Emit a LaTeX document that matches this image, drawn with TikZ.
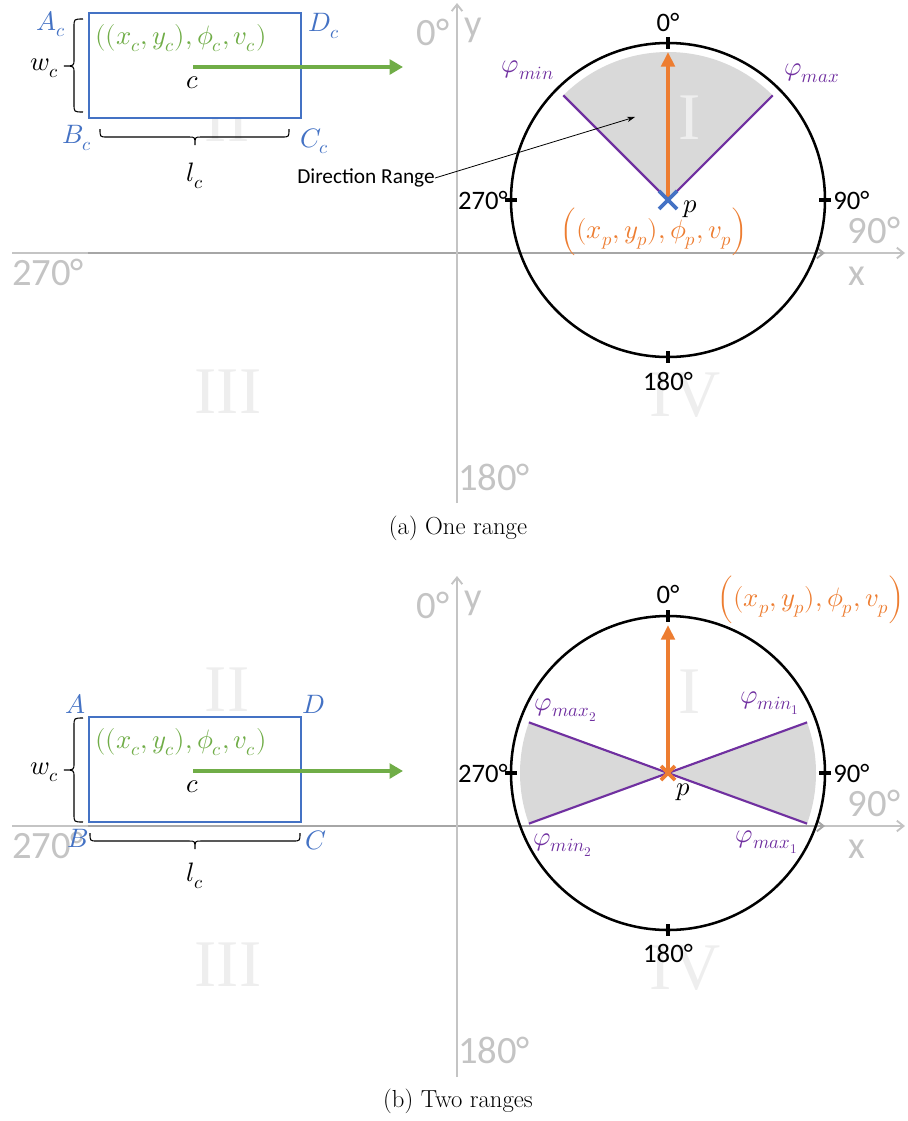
\documentclass[tikz,border=0pt]{standalone}
\usepackage{fontspec}
\usepackage{unicode-math}
\setmathfont{Latin Modern Math}
\newfontfamily\calfont{Carlito}
\newfontfamily\romfont{Liberation Serif}
\usetikzlibrary{arrows.meta}
\definecolor{cblue}{HTML}{4472C4}
\definecolor{cgreen}{HTML}{70AD47}
\definecolor{corange}{HTML}{ED7D31}
\definecolor{cpurple}{HTML}{7030A0}
\definecolor{axlight}{HTML}{C4C4C4}
\definecolor{axdark}{HTML}{A6A6A6}
\definecolor{sectgray}{HTML}{D9D9D9}
\definecolor{romgray}{HTML}{EEEEEE}
\begin{document}
\begin{tikzpicture}[x=0.75pt,y=-0.75pt,
  mathlbl/.style={inner sep=0pt, font=\fontsize{20}{20}\selectfont},
  deglbl/.style={inner sep=0pt, font=\calfont\fontsize{20}{20}\selectfont},
  axlbl/.style={inner sep=0pt, text=axlight, font=\calfont\fontsize{29}{29}\selectfont},
  romlbl/.style={inner sep=0pt, text=romgray, font=\romfont\fontsize{50}{50}\selectfont},
  caplbl/.style={inner sep=0pt, font=\fontsize{18.5}{18.5}\selectfont},
  axislight/.style={draw=axlight, line width=1.4pt, -{Straight Barb[length=5pt,width=8pt]}},
  axisdark/.style={draw=axdark, line width=1.4pt, -{Straight Barb[length=5pt,width=8pt]}},
  carbox/.style={draw=cblue, line width=2.2pt, fill=white},
  greenarrow/.style={draw=cgreen, line width=3pt, -{Triangle[length=10pt,width=11pt]}},
  orangearrow/.style={draw=corange, line width=3pt, -{Triangle[length=11pt,width=10pt]}},
  dircircle/.style={draw=black, line width=1.9pt},
  tickmark/.style={draw=black, line width=3pt},
  rangeline/.style={draw=cpurple, line width=1.6pt},
  bracebr/.style={draw=black, line width=0.8pt},
  purplelbl/.style={mathlbl, text=cpurple},
  bluelbl/.style={mathlbl, text=cblue},
]
\useasboundingbox (0,0) rectangle (907,1121);

%%%%%%%%%%%%%%%% PANEL (a) %%%%%%%%%%%%%%%%
\coordinate (pa) at (668,200);
\fill[sectgray] (pa) -- ++(-45:148) arc[start angle=-45, end angle=-135, radius=148] -- cycle;
\node[romlbl] (r1a) at (690,118) {I};
\node[romlbl] (r2a) at (227,120) {II};
\node[romlbl] (r3a) at (228,392) {III};
\node[romlbl] (r4a) at (685,395) {IV};
% axes
\coordinate (xa0) at (12,253); \coordinate (xa1) at (905,253);
\coordinate (xd0) at (88,253); \coordinate (xd1) at (825,253);
\coordinate (ya0) at (457,503); \coordinate (ya1) at (457,3);
\draw[axislight] (xa0) -- (xa1);
\draw[axisdark] (xd0) -- (xd1);
\draw[axislight] (ya0) -- (ya1);
\node[axlbl] (g0a) at (433,32) {0°};
\node[axlbl] (gya) at (473,30) {y};
\node[axlbl] (g90a) at (874,230) {90°};
\node[axlbl] (gxa) at (857,276) {x};
\node[axlbl] (g270a) at (48,272) {270°};
\node[axlbl] (g180a) at (494,477) {180°};
% car
\coordinate (Aa) at (89,13); \coordinate (Ca) at (301,118);
\draw[carbox] (Aa) rectangle (Ca);
\node[bluelbl] (lAa) at (51,24) {$A_c$};
\node[bluelbl] (lDa) at (324,26) {$D_c$};
\node[bluelbl] (lBa) at (77,138) {$B_c$};
\node[bluelbl] (lCa) at (315,141) {$C_c$};
\node[mathlbl, text=cgreen] (sca) at (181,38) {$((x_c,y_c),\phi_c,v_c)$};
\coordinate (ga0) at (193,67); \coordinate (ga1) at (403,67);
\draw[greenarrow] (ga0) -- (ga1);
\node[mathlbl] (ca) at (193,83) {$c$};
\draw[bracebr] (83,19) .. controls (74,19) .. (74,27) -- (74,59) .. controls (74,66) .. (64,66)
  .. controls (74,66) .. (74,73) -- (74,104) .. controls (74,112) .. (83,112);
\node[mathlbl] (wa) at (45,68) {$w_c$};
\draw[bracebr] (100,129) .. controls (100,137) .. (107,137) -- (189,137) .. controls (195,137) .. (195,145)
  .. controls (195,137) .. (201,137) -- (282,137) .. controls (289,137) .. (289,129);
\node[mathlbl] (la) at (195,176) {$l_c$};
% direction circle
\draw[dircircle] (pa) circle[radius=157];
\path (pa) ++(-135:148) coordinate (mina);
\path (pa) ++(-45:148) coordinate (maxa);
\draw[rangeline] (pa) -- (mina);
\draw[rangeline] (pa) -- (maxa);
\coordinate (oa) at (668,52);
\draw[orangearrow] (pa) -- (oa);
\draw[draw=cblue, line width=2.8pt] (659,191) -- (677,209) (659,209) -- (677,191);
\draw[tickmark] (668,37) -- (668,49);
\draw[tickmark] (668,351) -- (668,363);
\draw[tickmark] (505,200) -- (517,200);
\draw[tickmark] (819,200) -- (831,200);
\node[deglbl] (d0a) at (668,22) {0°};
\node[deglbl, anchor=east] (d270a) at (508,200) {270°};
\node[deglbl, anchor=west] (d90a) at (833,200) {90°};
\node[deglbl] (d180a) at (668,381) {180°};
\node[purplelbl] (phmina) at (528,70) {$\varphi_{min}$};
\node[purplelbl] (phmaxa) at (812,73) {$\varphi_{max}$};
\node[mathlbl] (ppa) at (690,209) {$p$};
\node[mathlbl, text=corange] (spa) at (654,232) {$\Bigl((x_p,y_p),\phi_p,v_p\Bigr)$};
% annotation
\node[inner sep=0pt, font=\calfont\fontsize{16}{16}\selectfont] (dr) at (366,178) {Direction Range};
\coordinate (drt) at (635,117);
\draw[line width=0.6pt, -{Stealth[length=6pt,width=4pt]}] (dr.east) -- (drt);
\node[caplbl] (capa) at (458,528) {(a) One range};

%%%%%%%%%%%%%%%% PANEL (b) %%%%%%%%%%%%%%%%
\coordinate (pb) at (668,773);
\fill[sectgray] (pb) -- ++(-20:148) arc[start angle=-20, end angle=20, radius=148] -- cycle;
\fill[sectgray] (pb) -- ++(160:148) arc[start angle=160, end angle=200, radius=148] -- cycle;
\node[romlbl] (r1b) at (690,692) {I};
\node[romlbl] (r2b) at (227,690) {II};
\node[romlbl] (r3b) at (228,965) {III};
\node[romlbl] (r4b) at (685,968) {IV};
\coordinate (xb0) at (12,826); \coordinate (xb1) at (905,826);
\coordinate (xe0) at (88,826); \coordinate (xe1) at (825,826);
\coordinate (yb0) at (457,1077); \coordinate (yb1) at (457,576);
\draw[axislight] (xb0) -- (xb1);
\draw[axisdark] (xe0) -- (xe1);
\draw[axislight] (yb0) -- (yb1);
\node[axlbl] (g0b) at (433,605) {0°};
\node[axlbl] (gyb) at (473,603) {y};
\node[axlbl] (g90b) at (874,803) {90°};
\node[axlbl] (gxb) at (857,849) {x};
\node[axlbl] (g270b) at (48,845) {270°};
\node[axlbl] (g180b) at (494,1050) {180°};
% car
\coordinate (Ab) at (89,717); \coordinate (Cb) at (301,822);
\draw[carbox] (Ab) rectangle (Cb);
\node[bluelbl] (lAb) at (75,704) {$A$};
\node[bluelbl] (lDb) at (314,704) {$D$};
\node[bluelbl] (lBb) at (78,838) {$B$};
\node[bluelbl] (lCb) at (316,840) {$C$};
\node[mathlbl, text=cgreen] (scb) at (181,742) {$((x_c,y_c),\phi_c,v_c)$};
\coordinate (gb0) at (193,771); \coordinate (gb1) at (403,771);
\draw[greenarrow] (gb0) -- (gb1);
\node[mathlbl] (cb) at (193,787) {$c$};
\draw[bracebr] (83,718) .. controls (74,718) .. (74,726) -- (74,763) .. controls (74,770) .. (64,770)
  .. controls (74,770) .. (74,777) -- (74,814) .. controls (74,822) .. (83,822);
\node[mathlbl] (wb) at (45,772) {$w_c$};
\draw[bracebr] (90,833) .. controls (90,841) .. (97,841) -- (189,841) .. controls (195,841) .. (195,849)
  .. controls (195,841) .. (201,841) -- (293,841) .. controls (300,841) .. (300,833);
\node[mathlbl] (lb) at (195,876) {$l_c$};
% circle
\draw[dircircle] (pb) circle[radius=157];
\path (pb) ++(160:148) coordinate (min2b);
\path (pb) ++(-20:148) coordinate (min1b);
\path (pb) ++(200:148) coordinate (max2b);
\path (pb) ++(20:148) coordinate (max1b);
\draw[rangeline] (max2b) -- (max1b);
\draw[rangeline] (min2b) -- (min1b);
\coordinate (ob) at (668,625);
\draw[orangearrow] (pb) -- (ob);
\draw[draw=corange, line width=2.8pt] (661,766) -- (675,780) (661,780) -- (675,766);
\draw[tickmark] (668,610) -- (668,622);
\draw[tickmark] (668,924) -- (668,936);
\draw[tickmark] (505,773) -- (517,773);
\draw[tickmark] (819,773) -- (831,773);
\node[deglbl] (d0b) at (668,594) {0°};
\node[deglbl, anchor=east] (d270b) at (508,773) {270°};
\node[deglbl, anchor=west] (d90b) at (833,773) {90°};
\node[deglbl] (d180b) at (668,953) {180°};
\node[purplelbl] (phmax2) at (566,710) {$\varphi_{max_2}$};
\node[purplelbl] (phmin1) at (770,703) {$\varphi_{min_1}$};
\node[purplelbl] (phmin2) at (563,845) {$\varphi_{min_2}$};
\node[purplelbl] (phmax1) at (767,842) {$\varphi_{max_1}$};
\node[mathlbl] (ppb) at (683,792) {$p$};
\node[mathlbl, text=corange] (spb) at (811,600) {$\Bigl((x_p,y_p),\phi_p,v_p\Bigr)$};
\node[caplbl] (capb) at (458,1101) {(b) Two ranges};
\end{tikzpicture}
\end{document}
